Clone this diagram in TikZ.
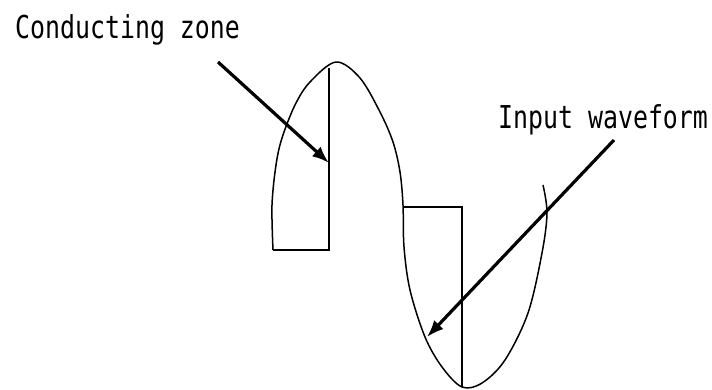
\documentclass[tikz,border=0pt]{standalone}
\usepackage{fontspec}
\usetikzlibrary{arrows.meta}
\newfontfamily\labelfont[FakeStretch=0.79]{DejaVu Sans Mono}

\begin{document}
\begin{tikzpicture}[x=1pt, y=-1pt,
  wave/.style={line width=1.5pt, line join=round},
  zone/.style={line width=1.7pt},
  pointer/.style={line width=3.2pt, -{Latex[length=17pt,width=13pt]}},
  tag/.style={anchor=base west, inner sep=0pt, font=\labelfont\fontsize{31.5}{36}\selectfont}]

% ---- frame (pixel grid, y grows downwards) ----
\useasboundingbox (0,0) rectangle (712,389);

% ---- labels ----
\node[tag] (czlabel) at (15,38) {Conducting zone};
\node[tag] (inlabel) at (498,128) {Input waveform};

% ---- input waveform (hand drawn sine) ----
\draw[wave] plot[smooth, tension=0.55] coordinates {
  (273,250) (272,205) (276,165) (282,138) (295,105) (310,82) (336,62)
  (360,78) (380,112) (393,142) (400,172) (403,205) (404,247) (410,290)
  (425,337) (442,367) (462,387) (482,383) (505,360) (528,313) (542,253)
  (547,213) (543,185)};

% ---- conducting zones ----
\draw[zone] (329,68) -- (329,250) -- (273,250);
\draw[zone] (403,207) -- (462,207) -- (462,387);

% ---- pointers ----
\coordinate (czTail) at (218,62);
\coordinate (czTip) at (329,163);
\coordinate (inTail) at (614,140);
\coordinate (inTip) at (427,337);
\draw[pointer] (czTail) -- (czTip);
\draw[pointer] (inTail) -- (inTip);

\end{tikzpicture}
\end{document}
